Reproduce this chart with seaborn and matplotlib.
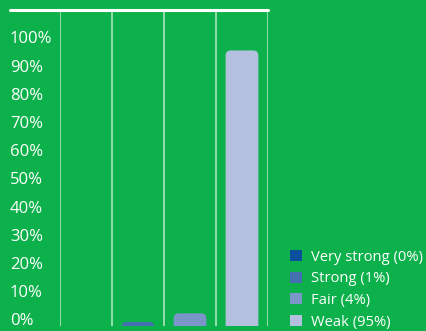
import matplotlib
matplotlib.use("Agg")
import matplotlib.pyplot as plt
import matplotlib.transforms as mtransforms
import seaborn as sns
import pandas as pd
from matplotlib.patches import FancyBboxPatch, Patch

categories = ["Very strong", "Strong", "Fair", "Weak"]
values = [0, 1, 4, 95]
colors = ["#0b4f9e", "#4470b2", "#7a95c8", "#b3c0df"]
ytick_values = [0, 10, 20, 30, 40, 50, 60, 70, 80, 90, 100]
ytick_labels = [f"{v}%" for v in ytick_values]

BG = "#0db14b"

sns.set_theme(style="white")
plt.rcParams["font.family"] = ["Open Sans", "DejaVu Sans"]

fig = plt.figure(figsize=(4.26, 3.31), dpi=100, facecolor=BG)
L, R, T, B = 60, 268, 10, 326
W, H = 426, 331
ax = fig.add_axes([L / W, (H - B) / H, (R - L) / W, (B - T) / H])
ax.set_facecolor(BG)

df = pd.DataFrame({"cat": categories, "val": values})
sns.barplot(data=df, x="cat", y="val", hue="cat", palette=colors,
            order=categories, width=0.63, legend=False, ax=ax, saturation=1)

ymin, ymax = -0.4, 109
ax.set_xlim(-0.5, 3.5)
ax.set_ylim(ymin, ymax)

# replace bars with rounded-top bars
xpp = 4 / (R - L)
ypp = (ymax - ymin) / (B - T)
aspect = ypp / xpp
for p in list(ax.patches):
    x0, w, h = p.get_x(), p.get_width(), p.get_height()
    fc = p.get_facecolor()
    p.remove()
    if h <= 0:
        continue
    bottom = -4.0
    fb = FancyBboxPatch((x0, bottom), w, h - bottom,
                        boxstyle="round,pad=0,rounding_size=0.1",
                        mutation_aspect=aspect, facecolor=fc, edgecolor="none",
                        clip_on=True)
    ax.add_patch(fb)

for xv in [-0.5, 0.5, 1.5, 2.5, 3.5]:
    ax.axvline(xv, color="#d8f2df", lw=1.1, alpha=0.85, zorder=0.5)
ax.axhline(ymax, xmin=-(L - 10) / (R - L), xmax=1, color="white", lw=2.2,
           clip_on=False, zorder=3)

for s in ax.spines.values():
    s.set_visible(False)
ax.set_xticks([])
ax.set_xlabel("")
ax.set_ylabel("")
ax.set_yticks(ytick_values)
ax.set_yticklabels(ytick_labels)
ax.tick_params(axis="y", length=0, pad=(L - 10) * 72 / 100, labelsize=12,
               labelcolor="white")
for v, t in zip(ytick_values, ax.get_yticklabels()):
    t.set_horizontalalignment("left")
    dy = (5.5 - 7.0 * v / 100) / 100.0
    t.set_transform(t.get_transform() +
                    mtransforms.ScaledTranslation(0, dy, fig.dpi_scale_trans))

handles = [Patch(facecolor=c, edgecolor="none") for c in colors]
labels = [f"{c} ({v}%)" for c, v in zip(categories, values)]
fig.legend(handles, labels, loc="lower left", bbox_to_anchor=(280 / W, -9 / H),
           frameon=False, fontsize=10.6, labelcolor="white", handlelength=0.78,
           handleheight=0.78, handletextpad=0.6, labelspacing=0.45,
           borderaxespad=0.3)

fig.savefig("out.png", dpi=100, facecolor=BG)
